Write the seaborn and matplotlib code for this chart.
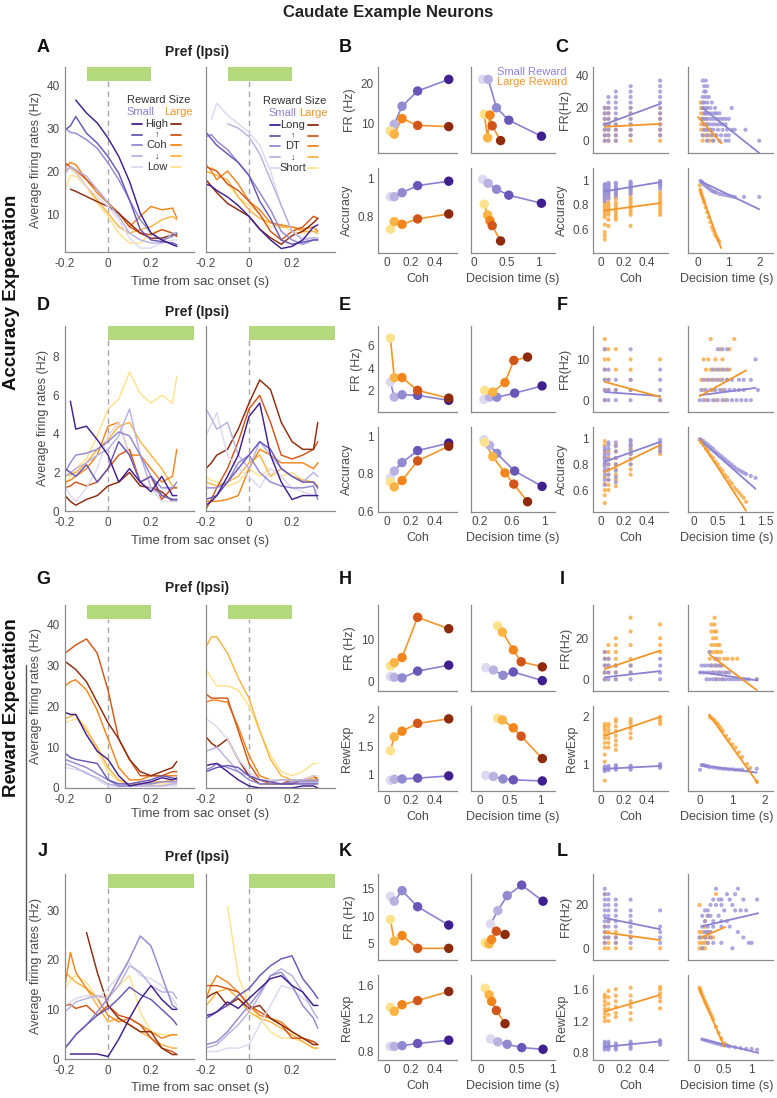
import numpy as np
import pandas as pd
import matplotlib
matplotlib.use("Agg")
import matplotlib.pyplot as plt
import seaborn as sns
from matplotlib.lines import Line2D

sns.set_theme(style="white")
plt.rcParams['font.family'] = ['Liberation Sans', 'DejaVu Sans']

nan = np.nan

# ============================================================
# DATA
# ============================================================
# time grid for the PSTH traces (s from saccade onset)
T = [-0.2, -0.175, -0.15, -0.1, -0.05, 0, 0.05, 0.1, 0.15, 0.2, 0.25, 0.3, 0.32]
coh = [0.032, 0.064, 0.128, 0.256, 0.512]

# --- A: traces, index 0 = high coh / long DT (darkest) ---
A_coh_small = [
    [nan, nan, 36.5, 33.5, 31.2, 27.7, 23.4, 17.6, 10.2, 5.6, 4.0, 2.9, 2.5],
    [29.6, 30.5, 32.7, 28.8, 26.5, 23.4, 19.5, 13.3, 6.4, 4.0, 3.6, 3.3, 2.9],
    [30.0, 29.0, 28.8, 27.3, 25.3, 21.9, 18.0, 13.3, 8.7, 5.6, 4.0, 4.8, 5.6],
    [19.5, 21.0, 20.3, 18.8, 15.7, 12.6, 9.5, 5.6, 4.0, 3.3, 3.3, 5.6, 5.6],
    [21.0, 20.5, 19.5, 16.4, 14.1, 11.8, 8.7, 4.4, 2.1, 2.1, 3.3, 4.0, 4.0],
]
A_coh_large = [
    [nan, 15.8, 15.3, 14.1, 12.9, 11.8, 10.2, 7.9, 5.6, 4.4, 4.4, 5.2, 5.2],
    [21.9, 21.0, 20.3, 18.0, 15.7, 12.6, 10.2, 7.1, 5.6, 5.2, 6.4, 5.6, 4.8],
    [21.0, 22.0, 21.5, 18.0, 14.9, 12.6, 10.2, 7.1, 9.5, 11.8, 11.0, 11.4, 9.1],
    [20.3, 20.8, 19.9, 16.4, 13.3, 10.2, 7.1, 5.6, 6.4, 7.1, 8.7, 9.5, 8.7],
    [15.7, 19.0, 18.8, 16.4, 12.6, 9.5, 5.6, 3.3, 3.3, 5.6, 6.4, 5.6, 5.6],
]
A_dt_small = [
    [17.0, 16.5, 15.5, 14.0, 12.0, 9.5, 6.5, 4.0, 2.0, 2.5, 4.0, 7.0, 7.5],
    [29.0, 27.5, 26.0, 24.0, 22.0, 19.0, 13.0, 9.0, 4.0, 3.0, 3.5, 4.0, 4.0],
    [28.0, 28.5, 27.0, 25.0, 22.0, 19.0, 15.0, 11.0, 6.0, 4.0, 3.0, 4.0, 4.0],
    [nan, nan, nan, 31.0, 30.0, 28.0, 24.0, 18.0, 12.0, 6.0, 4.0, 4.5, 4.5],
    [nan, 32.0, 35.8, 33.0, 31.0, 29.0, 26.0, 20.0, 12.0, 6.0, 4.5, 4.5, 4.0],
]
A_dt_large = [
    [18.0, 16.5, 15.0, 12.5, 11.0, 9.5, 6.5, 4.5, 3.0, 5.0, 6.0, 8.0, 9.0],
    [21.0, 20.5, 20.0, 17.0, 15.5, 13.0, 10.0, 6.0, 4.0, 6.0, 7.0, 9.5, 9.0],
    [21.5, 20.0, 18.0, 20.0, 17.0, 13.0, 11.0, 8.0, 7.5, 7.0, 6.5, 7.0, 6.0],
    [20.0, 19.5, 19.0, 18.0, 14.0, 11.0, 9.0, 8.0, 7.0, 7.0, 6.0, 6.0, 5.5],
    [nan, 21.0, 20.0, 17.0, 14.0, 12.0, 10.0, 7.0, 7.5, 6.0, 5.5, 6.0, 6.0],
]

# --- D ---
D_coh_small = [
    [nan, 5.7, 4.25, 4.4, 3.7, 2.9, 1.5, 2.2, 1.5, 1.0, 1.8, 0.8, 0.8],
    [2.2, 2.0, 1.8, 2.4, 1.5, 2.2, 3.6, 2.9, 1.5, 1.8, 0.8, 0.6, 0.6],
    [2.0, 2.5, 2.9, 3.0, 3.2, 3.6, 4.1, 3.9, 2.9, 1.8, 1.2, 1.2, 1.5],
    [1.8, 2.0, 2.2, 2.5, 2.9, 3.2, 3.9, 5.3, 2.9, 1.2, 0.8, 0.6, 0.5],
    [1.3, 0.8, 0.5, 1.2, 2.2, 3.9, 4.6, 2.9, 1.5, 1.2, 0.5, 0.5, 0.6],
]
D_coh_large = [
    [0.8, 0.5, 0.3, 0.6, 0.8, 1.3, 1.5, 2.0, 1.3, 1.2, 1.0, 0.5, 0.6],
    [1.2, 1.3, 1.5, 1.3, 1.5, 2.2, 2.9, 3.2, 1.5, 1.8, 0.6, 1.2, 1.2],
    [1.5, 1.6, 1.8, 2.2, 2.9, 4.4, 4.6, 2.9, 2.9, 2.2, 1.5, 1.8, 3.2],
    [1.8, 1.9, 2.0, 2.5, 3.2, 3.7, 4.4, 4.6, 3.6, 2.9, 2.2, 1.3, 1.2],
    [1.3, 1.8, 2.2, 2.7, 3.9, 5.3, 5.8, 7.2, 6.1, 5.6, 6.0, 5.6, 7.0],
]
D_dt_small = [
    [0.3, 0.5, 0.8, 1.8, 2.9, 4.9, 5.6, 2.9, 1.5, 0.6, 0.8, 0.8, 0.8],
    [0.6, 0.7, 0.8, 1.5, 2.2, 2.9, 3.6, 3.2, 2.2, 1.8, 1.5, 1.5, 1.2],
    [1.2, 1.2, 1.2, 1.5, 2.5, 2.9, 2.0, 1.5, 1.3, 1.2, 1.2, 1.3, 0.6],
    [5.3, 4.8, 4.25, 4.6, 2.9, 2.2, 3.6, 2.9, 2.2, 1.8, 1.5, 2.0, 1.8],
    [3.9, 4.5, 5.1, 2.9, 2.2, 1.8, 1.2, 2.2, 1.8, 1.2, 1.0, 0.8, 1.2],
]
D_dt_large = [
    [2.2, 2.5, 2.9, 3.2, 4.25, 5.6, 6.8, 6.3, 4.6, 3.6, 3.2, 3.2, 4.6],
    [0.1, 0.6, 1.2, 2.2, 3.6, 5.3, 6.0, 4.6, 2.9, 2.7, 2.9, 3.2, 3.6],
    [0.5, 0.5, 0.5, 0.6, 0.8, 2.2, 3.2, 2.9, 2.5, 2.5, 2.5, 2.2, 2.5],
    [1.5, 1.4, 1.3, 1.5, 1.8, 2.5, 2.9, 1.8, 2.2, 1.8, 1.6, 1.5, 1.3],
    [1.8, 1.6, 1.5, 1.3, 1.5, 2.2, 1.8, 2.2, 1.8, 2.0, 1.6, 1.5, 1.3],
]

# --- G ---
G_coh_small = [
    [18.5, 18.0, 18.0, 13.0, 9.0, 7.0, 3.0, 0.5, 1.0, 1.5, 2.5, 2.0, 2.5],
    [8.5, 7.5, 7.0, 6.5, 6.0, 2.0, 1.0, 1.0, 1.5, 2.0, 3.0, 2.5, 2.0],
    [7.0, 6.5, 6.0, 5.0, 3.5, 2.0, 0.5, 0.5, 1.0, 1.0, 1.5, 1.5, 1.5],
    [6.0, 5.5, 5.0, 3.5, 2.5, 1.0, 0.5, 0.5, 0.5, 0.5, 0.5, 1.0, 1.0],
    [5.0, 4.8, 4.5, 4.0, 2.0, 0.5, 0.3, 0.5, 0.5, 0.5, 0.5, 0.5, 0.5],
]
G_coh_large = [
    [31.0, 30.0, 29.0, 26.0, 21.0, 16.0, 12.0, 7.0, 4.0, 3.0, 4.0, 5.0, 6.5],
    [33.0, 34.0, 35.0, 36.5, 33.0, 24.0, 12.0, 7.0, 3.0, 3.0, 3.0, 4.0, 4.0],
    [25.0, 26.0, 26.5, 24.0, 19.0, 12.0, 5.0, 2.0, 2.0, 3.0, 3.0, 3.0, 3.0],
    [17.0, 17.5, 18.0, 14.0, 10.0, 5.0, 2.0, 1.0, 1.0, 1.5, 1.5, 2.0, 2.0],
    [16.0, 16.5, 17.0, 15.0, 9.0, 4.0, 1.5, 1.0, 0.5, 1.0, 1.0, 1.0, 1.0],
]
G_dt_small = [
    [5.5, 5.8, 6.0, 4.0, 2.0, 0.5, 0.0, 0.0, 0.0, 0.0, 0.5, 0.5, 0.0],
    [4.0, 4.5, 5.0, 5.5, 5.0, 3.0, 2.0, 1.5, 1.0, 1.0, 1.0, 1.0, 1.0],
    [4.5, 5.0, 6.0, 5.0, 4.0, 2.0, 1.0, 1.0, 1.0, 1.5, 1.5, 1.5, 1.5],
    [9.0, 9.5, 10.0, 7.0, 4.0, 3.0, 2.0, 1.5, 2.0, 2.0, 2.0, 2.0, 2.0],
    [17.0, 16.0, 15.0, 12.0, 7.0, 4.0, 2.0, 2.0, 2.0, 2.0, 2.0, 3.0, 3.0],
]
G_dt_large = [
    [12.5, 11.0, 10.0, 12.0, 7.0, 3.0, 1.0, 1.0, 1.0, 1.0, 2.0, 2.0, 2.0],
    [23.0, 22.0, 22.0, 22.0, 14.0, 6.0, 2.0, 1.0, 1.0, 2.0, 2.0, 3.0, 2.0],
    [21.0, 21.5, 21.5, 21.0, 15.0, 8.0, 3.0, 2.0, 2.0, 2.0, 2.0, 2.0, 2.0],
    [34.5, 37.0, 37.0, 33.0, 27.0, 22.0, 14.0, 7.0, 3.0, 2.0, 2.0, 2.5, 2.5],
    [29.0, 27.0, 25.0, 25.0, 24.0, 20.0, 14.0, 8.0, 4.0, 3.0, 4.0, 6.0, 6.0],
]

# --- J ---
J_coh_small = [
    [nan, 1.0, 1.0, 1.0, 1.0, 0.5, 4.0, 8.2, 12.0, 14.8, 12.0, 10.0, 10.0],
    [2.2, 3.5, 4.9, 6.9, 8.8, 10.2, 12.2, 14.5, 13.0, 12.0, 10.0, 8.0, 6.9],
    [2.2, 3.5, 4.9, 6.9, 9.5, 12.2, 16.2, 20.2, 24.8, 22.8, 16.8, 10.8, 10.2],
    [9.5, 10.5, 11.5, 12.2, 12.8, 12.2, 14.8, 18.8, 17.5, 14.8, 13.5, 13.5, 12.2],
    [10.8, 11.5, 12.2, 12.8, 12.2, 14.2, 16.8, 19.5, 16.8, 16.2, 14.8, 12.2, 10.8],
]
J_coh_large = [
    [nan, nan, nan, 25.5, 17.5, 10.8, 8.2, 6.9, 5.5, 5.5, 2.2, 0.9, 0.9],
    [10.8, 11.0, 10.2, 10.8, 8.8, 10.8, 8.8, 8.2, 6.9, 4.2, 2.2, 1.5, 0.9],
    [14.8, 21.5, 17.5, 14.2, 12.2, 8.8, 7.5, 8.2, 6.9, 5.5, 4.2, 4.9, 4.9],
    [17.5, 16.5, 15.5, 14.2, 10.8, 7.5, 8.2, 6.9, 5.5, 4.2, 2.9, 2.2, 2.2],
    [14.2, 16.0, 16.8, 15.5, 12.2, 12.8, 14.8, 16.8, 9.5, 5.5, 4.9, 4.9, 4.9],
]
J_dt_small = [
    [8.8, 9.0, 9.5, 11.5, 10.2, 12.2, 14.2, 16.2, 16.8, 14.8, 13.5, 10.8, 10.8],
    [8.2, 8.8, 9.5, 10.8, 12.8, 14.2, 16.8, 18.8, 20.2, 20.8, 16.2, 13.5, 12.2],
    [2.9, 3.2, 3.5, 5.5, 8.2, 10.8, 13.5, 16.8, 17.5, 14.8, 10.8, 8.2, 6.2],
    [2.2, 2.5, 2.9, 4.9, 6.9, 9.5, 12.8, 16.8, 18.2, 16.8, 13.5, 9.5, 8.2],
    [1.5, 1.5, 1.5, 2.2, 2.2, 2.9, 6.9, 10.8, 14.8, 14.2, 12.2, 10.8, 10.8],
]
J_dt_large = [
    [12.2, 13.0, 13.5, 10.8, 12.2, 10.2, 10.8, 8.2, 6.9, 5.5, 4.2, 2.9, 2.9],
    [14.8, 14.8, 14.8, 14.2, 13.5, 10.8, 9.5, 8.2, 6.9, 4.2, 4.2, 3.5, 2.9],
    [12.2, 15.0, 16.8, 15.5, 13.5, 10.8, 8.8, 8.2, 7.5, 5.5, 4.2, 3.5, 2.9],
    [10.8, 12.0, 13.5, 14.2, 12.2, 9.5, 8.2, 7.5, 6.2, 4.9, 3.5, 2.2, 2.2],
    [nan, nan, nan, 30.8, 16.8, 10.8, 8.2, 5.5, 4.2, 4.2, 3.5, 2.2, 2.2],
]

# --- B / E / H / K summaries (index 0 = lowest coh / shortest DT) ---
B_fr_coh_small = [8.2, 9.8, 14.3, 18.1, 21.0]
B_fr_coh_large = [8.1, 7.3, 11.2, 9.5, 9.2]
B_acc_coh_small = [0.904, 0.904, 0.925, 0.962, 0.985]
B_acc_coh_large = [0.734, 0.774, 0.760, 0.788, 0.814]
B_dt_small = [0.13, 0.216, 0.345, 0.535, 1.04]
B_dt_large = [0.155, 0.207, 0.243, 0.278, 0.408]
B_fr_dt_small = [21.0, 21.0, 13.9, 10.8, 6.8]
B_fr_dt_large = [12.3, 6.4, 12.1, 9.4, 5.7]
B_acc_dt_small = [0.995, 0.974, 0.943, 0.912, 0.870]
B_acc_dt_large = [0.865, 0.809, 0.779, 0.753, 0.673]

E_fr_coh_small = [2.75, 1.4, 1.6, 1.55, 1.1]
E_fr_coh_large = [6.7, 3.15, 3.15, 2.0, 1.3]
E_acc_coh_small = [0.778, 0.815, 0.86, 0.924, 0.964]
E_acc_coh_large = [0.757, 0.73, 0.764, 0.869, 0.947]
E_dt_small = [0.25, 0.32, 0.41, 0.63, 0.97]
E_dt_large = [0.26, 0.36, 0.51, 0.62, 0.79]
E_fr_dt_small = [1.18, 1.4, 1.38, 1.75, 2.4]
E_fr_dt_large = [2.0, 1.85, 2.7, 4.7, 5.0]
E_acc_dt_small = [0.982, 0.953, 0.909, 0.815, 0.733]
E_acc_dt_large = [0.968, 0.892, 0.805, 0.745, 0.651]

H_fr_coh_small = [1.2, 1.05, 0.9, 2.5, 3.9]
H_fr_coh_large = [3.7, 4.5, 5.7, 15.2, 12.5]
H_rew_coh_small = [0.89, 0.91, 0.915, 0.93, 0.97]
H_rew_coh_large = [1.42, 1.67, 1.77, 1.91, 1.99]
H_dt_small = [0.105, 0.23, 0.39, 0.56, 1.04]
H_dt_large = [0.30, 0.38, 0.56, 0.69, 1.04]
H_fr_dt_small = [3.3, 2.75, 1.5, 2.3, 0.25]
H_fr_dt_large = [13.2, 11.7, 7.5, 4.7, 3.5]
H_rew_dt_small = [0.98, 0.96, 0.915, 0.90, 0.88]
H_rew_dt_large = [2.0, 1.97, 1.83, 1.68, 1.28]

K_fr_coh_small = [13.6, 12.7, 14.6, 11.7, 8.4]
K_fr_coh_large = [9.4, 5.5, 6.5, 4.2, 4.2]
K_rew_coh_small = [0.865, 0.865, 0.874, 0.90, 0.94]
K_rew_coh_large = [1.34, 1.29, 1.37, 1.42, 1.53]
K_dt_small = [0.14, 0.24, 0.37, 0.57, 0.865]
K_dt_large = [0.067, 0.12, 0.155, 0.22, 0.34]
K_fr_dt_small = [8.6, 11.0, 13.7, 15.6, 12.7]
K_fr_dt_large = [5.2, 5.0, 5.8, 7.3, 6.7]
K_rew_dt_small = [0.955, 0.92, 0.89, 0.85, 0.83]
K_rew_dt_large = [1.57, 1.49, 1.41, 1.30, 1.14]

# --- C / F / I / L single-session scatters ---
# FR vs coh: list of FR values at each coh
C_fr_coh_small = [
    [0, 3.3, 6.7, 10, 13.3, 16.7, 20],
    [0, 3.3, 6.7, 10, 13.3, 16.7, 20, 23.3, 26.7],
    [0, 3.3, 6.7, 10, 13.3, 16.7, 20, 23.3, 26.7, 30],
    [3.3, 6.7, 10, 13.3, 16.7, 20, 23.3, 26.7, 30, 33.3],
    [3.3, 6.7, 10, 13.3, 16.7, 20, 23.3, 26.7, 30, 33.3, 36.7],
]
C_fr_coh_large = [
    [0, 3.3, 6.7, 10, 13.3, 16.7, 20],
    [0, 3.3, 6.7, 10, 13.3, 16.7, 20],
    [0, 3.3, 6.7, 10, 13.3],
    [0, 3.3, 6.7, 10, 13.3, 16.7, 20],
    [0, 3.3, 6.7, 10, 13.3, 16.7, 20],
]
# FR vs DT: FR level and the DTs seen at it
C_fr_levels_small = [36.7, 33.3, 30, 26.7, 23.3, 20, 16.7, 13.3, 10, 6.7, 3.3, 0]
C_dt_at_fr_small = [
    [0.15, 0.25], [0.2, 0.3], [0.2, 0.25], [0.15, 0.25, 0.35], [0.15, 0.2, 0.3, 0.45],
    [0.15, 0.25, 0.3, 0.4, 0.55, 1.1], [0.2, 0.25, 0.3, 0.35, 0.45, 0.55, 0.6, 0.7],
    [0.15, 0.2, 0.3, 0.4, 0.5, 0.6, 0.7, 0.8, 0.9, 1.0],
    [0.2, 0.3, 0.4, 0.5, 0.6, 0.7, 0.8, 0.9],
    [0.2, 0.3, 0.4, 0.5, 0.65, 0.8, 0.95, 1.1, 1.2, 1.55],
    [0.15, 0.3, 0.45, 0.6, 0.75, 0.9, 1.0], [0.3, 0.5, 0.7, 0.9, 1.0, 2.0],
]
C_fr_levels_large = [23.3, 20, 16.7, 13.3, 10, 6.7, 3.3, 0]
C_dt_at_fr_large = [
    [0.08], [0.1, 0.15], [0.1, 0.2], [0.1, 0.15, 0.25], [0.1, 0.2, 0.3],
    [0.1, 0.2, 0.3, 0.4], [0.15, 0.25, 0.35, 0.45, 0.55], [0.15, 0.3, 0.4, 0.5],
]
C_acc_coh_small = [
    [0.83, 0.85, 0.87, 0.88, 0.89, 0.9, 0.91, 0.92, 0.93, 0.94, 0.95, 0.96, 0.97],
    [0.85, 0.87, 0.89, 0.91, 0.92, 0.93, 0.94, 0.95, 0.96, 0.97, 0.98],
    [0.87, 0.89, 0.9, 0.91, 0.92, 0.93, 0.94, 0.95, 0.97, 0.98],
    [0.89, 0.91, 0.92, 0.93, 0.94, 0.95, 0.96, 0.97, 0.98, 0.99],
    [0.93, 0.95, 0.96, 0.97, 0.98, 0.99, 0.995],
]
C_acc_coh_large = [
    [0.52, 0.55, 0.58, 0.64, 0.7, 0.72, 0.74, 0.76, 0.78, 0.8, 0.82, 0.85],
    [0.63, 0.68, 0.72, 0.74, 0.76, 0.78, 0.8, 0.82, 0.86, 0.89],
    [0.68, 0.7, 0.72, 0.74, 0.76, 0.78, 0.8, 0.82, 0.85, 0.88],
    [0.63, 0.72, 0.74, 0.76, 0.78, 0.8, 0.82, 0.84, 0.86, 0.89],
    [0.72, 0.74, 0.76, 0.78, 0.8, 0.82, 0.84, 0.86, 0.88, 0.9],
]
C_acc_dt_small_x = [0.08, 0.1, 0.13, 0.16, 0.2, 0.25, 0.3, 0.35, 0.4, 0.45, 0.5, 0.55, 0.6,
                    0.7, 0.8, 0.9, 1.0, 1.1, 1.2, 1.5, 2.0]
C_acc_dt_small_y = [0.995, 0.99, 0.985, 0.975, 0.965, 0.955, 0.945, 0.935, 0.925, 0.915, 0.91,
                    0.905, 0.9, 0.89, 0.885, 0.88, 0.875, 0.87, 0.865, 0.865, 0.865]
C_acc_dt_large_x = [0.05, 0.08, 0.1, 0.12, 0.15, 0.18, 0.2, 0.25, 0.3, 0.35, 0.4, 0.45, 0.5,
                    0.55, 0.6, 0.65, 0.7]
C_acc_dt_large_y = [0.96, 0.92, 0.9, 0.88, 0.86, 0.84, 0.82, 0.78, 0.74, 0.7, 0.66, 0.62, 0.59,
                    0.56, 0.54, 0.52, 0.5]
# regression lines: ([x0, x1], [y0, y1])
C_fit_fr_coh_small = ([0.032, 0.512], [10.0, 22.5])
C_fit_fr_coh_large = ([0.032, 0.512], [8.5, 10.3])
C_fit_fr_dt_small = ([0.16, 2.0], [19.7, -7.5])
C_fit_fr_dt_large = ([0.0, 0.77], [14.5, -1.6])
C_fit_acc_coh_small = ([0.032, 0.512], [0.91, 0.985])
C_fit_acc_coh_large = ([0.032, 0.512], [0.755, 0.815])
C_fit_acc_dt_small = ([0.1, 2.0], [0.99, 0.765])
C_fit_acc_dt_large = ([0.05, 0.75], [0.93, 0.45])

F_fr_coh_small = [[0, 2.5, 5, 7.5, 12.5], [0, 2.5, 5, 7.5], [0, 2.5, 5], [0, 2.5, 5, 12.5], [0, 2.5, 5, 7.5]]
F_fr_coh_large = [[0, 2.5, 5, 7.5, 10, 12.5, 15], [2.5, 5, 10, 12.5], [2.5, 7.5, 12.5],
                  [2.5, 5, 7.5, 10], [0, 10]]
F_fr_levels_small = [0, 2.5, 5, 7.5, 10, 12.5]
F_dt_at_fr_small = [
    [0.12, 0.2, 0.3, 0.4, 0.5, 0.6, 0.7, 0.8, 0.9, 1.0, 1.1, 1.2],
    [0.15, 0.25, 0.35, 0.45, 0.55, 0.65, 0.75, 0.85, 0.95, 1.05, 1.35],
    [0.2, 0.3, 0.4, 0.5, 0.6, 0.7, 0.8, 0.95, 1.05, 1.2],
    [0.4, 0.5, 0.6, 0.7], [1.3], [0.5, 0.6, 0.7],
]
F_fr_levels_large = [0, 2.5, 5, 7.5, 10, 12.5, 15]
F_dt_at_fr_large = [
    [0.25, 0.45, 0.65], [0.2, 0.4, 0.6], [0.15, 0.25, 0.35, 0.45, 0.55, 0.7],
    [0.25, 0.35, 0.45, 0.55, 0.65, 0.75], [0.2, 0.3, 0.45, 0.6], [0.55, 0.75], [0.35, 0.85],
]
F_acc_coh_small = [
    [0.64, 0.68, 0.72, 0.75, 0.78, 0.8, 0.82, 0.84, 0.86, 0.88, 0.91, 0.93],
    [0.68, 0.72, 0.76, 0.8, 0.84, 0.88, 0.92, 0.95, 0.97],
    [0.66, 0.7, 0.75, 0.8, 0.85, 0.9, 0.94, 0.97],
    [0.8, 0.84, 0.88, 0.91, 0.94, 0.96, 0.98, 0.99],
    [0.9, 0.93, 0.95, 0.97, 0.99],
]
F_acc_coh_large = [
    [0.5, 0.56, 0.6, 0.65, 0.7, 0.75, 0.8, 0.85, 0.9, 0.95, 0.98],
    [0.6, 0.64, 0.68, 0.72, 0.76, 0.8, 0.85, 0.9],
    [0.63, 0.68, 0.72, 0.76, 0.8, 0.85, 0.9, 0.95],
    [0.72, 0.76, 0.8, 0.84, 0.88, 0.92, 0.95],
    [0.88, 0.9, 0.92, 0.94],
]
F_acc_dt_small_x = [0.12, 0.15, 0.2, 0.25, 0.3, 0.35, 0.4, 0.45, 0.5, 0.55, 0.6, 0.65, 0.7, 0.75,
                    0.8, 0.85, 0.9, 0.95, 1.0, 1.05, 1.1, 1.2, 1.3]
F_acc_dt_small_y = [0.995, 0.99, 0.98, 0.965, 0.95, 0.935, 0.92, 0.9, 0.885, 0.87, 0.855, 0.84,
                    0.825, 0.81, 0.795, 0.78, 0.765, 0.755, 0.745, 0.735, 0.725, 0.71, 0.695]
F_acc_dt_large_x = [0.12, 0.15, 0.2, 0.25, 0.3, 0.35, 0.4, 0.45, 0.5, 0.55, 0.6, 0.65, 0.7, 0.75,
                    0.8, 0.85, 0.9, 0.95, 1.0, 1.05, 1.1]
F_acc_dt_large_y = [0.99, 0.97, 0.95, 0.92, 0.9, 0.87, 0.85, 0.82, 0.8, 0.77, 0.75, 0.72, 0.7,
                    0.67, 0.65, 0.62, 0.6, 0.58, 0.56, 0.54, 0.51]
F_fit_fr_coh_small = ([0.032, 0.512], [2.0, 1.0])
F_fit_fr_coh_large = ([0.032, 0.512], [4.5, 0.8])
F_fit_fr_dt_small = ([0.12, 1.3], [1.2, 3.0])
F_fit_fr_dt_large = ([0.12, 1.1], [1.0, 7.3])
F_fit_acc_coh_small = ([0.032, 0.512], [0.82, 0.975])
F_fit_acc_coh_large = ([0.032, 0.512], [0.74, 0.95])
F_fit_acc_dt_small = ([0.12, 1.3], [0.99, 0.61])
F_fit_acc_dt_large = ([0.12, 1.1], [0.99, 0.44])

I_fr_coh_small = [[0, 3.3, 6.7, 10, 13.3], [0, 3.3, 6.7, 10], [0, 3.3, 6.7], [0, 3.3, 6.7], [0, 3.3, 6.7, 10]]
I_fr_coh_large = [[0, 3.3, 6.7, 10, 13.3], [3.3, 6.7, 10, 13.3, 16.7], [0, 3.3, 6.7, 10, 13.3, 16.7, 20],
                  [3.3, 6.7, 10, 16.7, 23.3, 30], [13.3, 16.7, 20, 26.7]]
I_fr_levels_small = [13.3, 10, 6.7, 3.3, 0]
I_dt_at_fr_small = [
    [0.3], [0.5], [0.05, 0.15, 0.25, 0.35, 0.45, 0.55, 0.65],
    [0.0, 0.1, 0.2, 0.3, 0.4, 0.5, 0.6, 0.7, 0.8, 0.9],
    [0.2, 0.3, 0.4, 0.5, 0.6, 0.7, 0.8, 0.9, 1.0, 1.1, 1.2, 1.3, 1.4, 1.5, 1.75],
]
I_fr_levels_large = [30, 26.7, 23.3, 20, 16.7, 13.3, 10, 6.7, 3.3, 0]
I_dt_at_fr_large = [
    [0.45], [0.35, 0.45], [0.35, 0.45, 0.5], [0.4, 0.5], [0.35, 0.45, 0.55, 0.6],
    [0.3, 0.4, 0.5, 0.55, 0.65], [0.3, 0.45, 0.6, 0.75, 0.85, 1.0, 1.15],
    [0.35, 0.5, 0.6, 0.7], [0.4, 0.6, 0.8], [0.5, 0.7, 1.75],
]
I_rew_coh_small = [[0.85, 0.88, 0.9, 0.92, 0.95], [0.87, 0.9, 0.93, 0.96], [0.88, 0.9, 0.92, 0.95, 0.98],
                   [0.88, 0.91, 0.94, 0.97], [0.92, 0.95, 0.98, 1.0]]
I_rew_coh_large = [
    [0.65, 0.9, 1.05, 1.2, 1.35, 1.45, 1.55, 1.62, 1.7, 1.75, 1.8, 1.85],
    [1.35, 1.45, 1.55, 1.65, 1.72, 1.8, 1.85],
    [1.3, 1.4, 1.5, 1.6, 1.7, 1.8, 1.9, 1.95],
    [1.55, 1.65, 1.75, 1.85, 1.9, 1.95],
    [1.85, 1.9, 1.95, 2.0],
]
I_rew_dt_small_x = [0.0, 0.05, 0.1, 0.15, 0.2, 0.25, 0.3, 0.4, 0.5, 0.6, 0.7, 0.8, 0.9, 1.0, 1.1,
                    1.2, 1.3, 1.5, 1.75]
I_rew_dt_small_y = [0.88, 0.98, 0.98, 0.97, 0.96, 0.95, 0.94, 0.93, 0.92, 0.91, 0.9, 0.9, 0.89,
                    0.89, 0.88, 0.88, 0.88, 0.88, 0.9]
I_rew_dt_large_x = [0.3, 0.35, 0.4, 0.45, 0.5, 0.55, 0.6, 0.65, 0.7, 0.8, 0.9, 1.0, 1.1, 1.2, 1.3,
                    1.45, 1.55, 1.75]
I_rew_dt_large_y = [2.0, 1.98, 1.95, 1.92, 1.88, 1.85, 1.8, 1.75, 1.7, 1.6, 1.52, 1.42, 1.35, 1.25,
                    1.15, 1.0, 0.92, 0.63]
I_fit_fr_coh_small = ([0.032, 0.512], [1.0, 4.0])
I_fit_fr_coh_large = ([0.032, 0.512], [5.0, 14.0])
I_fit_fr_dt_small = ([0.0, 1.75], [3.5, -0.5])
I_fit_fr_dt_large = ([0.3, 1.75], [12.0, -5.3])
I_fit_rew_coh_small = ([0.032, 0.512], [0.9, 0.96])
I_fit_rew_coh_large = ([0.032, 0.512], [1.6, 2.0])
I_fit_rew_dt_small = ([0.05, 1.75], [0.97, 0.82])
I_fit_rew_dt_large = ([0.28, 1.78], [2.05, 0.6])

L_fr_coh_small = [[2.5, 5, 7.5, 10, 12.5, 15, 17.5, 20, 22.5, 25, 27.5],
                  [5, 10, 12.5, 15, 17.5, 20, 22.5, 25],
                  [2.5, 5, 10, 12.5, 15, 17.5, 20, 22.5],
                  [2.5, 5, 7.5, 10, 12.5, 15, 17.5, 22.5],
                  [2.5, 5, 7.5, 10, 17.5]]
L_fr_coh_large = [[0, 2.5, 5, 7.5, 10, 25], [0, 2.5, 5, 7.5, 12.5], [0, 2.5, 5, 7.5], [0, 5], [0]]
L_fr_levels_small = [27.5, 25, 22.5, 20, 17.5, 15, 12.5, 10, 7.5, 5, 2.5, 0]
L_dt_at_fr_small = [
    [0.35, 0.75], [0.55, 0.7], [0.3, 0.4, 0.45, 0.6, 0.85, 1.1], [0.25, 0.35, 0.45, 0.65],
    [0.15, 0.2, 0.5, 0.7, 0.8, 0.9], [0.1, 0.2, 0.25, 0.4], [0.15, 0.3, 0.45, 0.55],
    [0.1, 0.2, 0.3, 0.45, 0.6], [0.15, 0.2, 0.25, 0.75], [0.05, 0.15, 0.25, 0.85],
    [0.2, 0.3, 0.45, 0.95, 1.0], [0.1, 0.65],
]
L_fr_levels_large = [25, 20, 15, 12.5, 10, 7.5, 5, 2.5, 0]
L_dt_at_fr_large = [
    [0.35], [0.05], [0.2], [0.15], [0.15], [0.05, 0.1, 0.15, 0.2, 0.25],
    [0.05, 0.1, 0.15, 0.2, 0.25, 0.3], [0.05, 0.1, 0.15, 0.2], [0.05, 0.1, 0.15],
]
L_rew_coh_small = [[0.84, 0.86, 0.88, 0.9, 0.92, 0.94], [0.84, 0.86, 0.88, 0.9, 0.92, 0.94],
                   [0.84, 0.86, 0.88, 0.9, 0.92], [0.85, 0.87, 0.9, 0.92, 0.94], [0.9, 0.92, 0.94, 0.96]]
L_rew_coh_large = [[1.2, 1.25, 1.3, 1.35, 1.4, 1.45, 1.5, 1.53], [1.2, 1.28, 1.35, 1.42, 1.5, 1.58],
                   [1.25, 1.3, 1.38, 1.45, 1.52, 1.6], [1.22, 1.3, 1.38, 1.45, 1.52, 1.62],
                   [1.36, 1.45, 1.5, 1.55, 1.6, 1.63]]
L_rew_dt_small_x = [0.1, 0.15, 0.2, 0.25, 0.3, 0.35, 0.4, 0.45, 0.5, 0.55, 0.6, 0.7, 0.8, 0.9, 1.0, 1.1]
L_rew_dt_small_y = [0.97, 0.96, 0.95, 0.94, 0.93, 0.92, 0.91, 0.9, 0.895, 0.89, 0.88, 0.87, 0.86,
                    0.85, 0.85, 0.84]
L_rew_dt_large_x = [0.05, 0.06, 0.07, 0.08, 0.1, 0.12, 0.14, 0.16, 0.18, 0.2, 0.22, 0.25, 0.28,
                    0.3, 0.35, 0.4, 0.45, 0.5, 0.55]
L_rew_dt_large_y = [1.62, 1.6, 1.58, 1.56, 1.53, 1.5, 1.46, 1.43, 1.4, 1.37, 1.34, 1.3, 1.26, 1.22,
                    1.13, 1.05, 0.98, 0.92, 0.9]
L_fit_fr_coh_small = ([0.032, 0.512], [14.0, 8.8])
L_fit_fr_coh_large = ([0.032, 0.512], [7.3, 3.8])
L_fit_fr_dt_small = ([0.1, 1.12], [10.2, 16.2])
L_fit_fr_dt_large = ([0.1, 0.52], [5.2, 9.8])
L_fit_rew_coh_small = ([0.032, 0.512], [0.875, 0.945])
L_fit_rew_coh_large = ([0.032, 0.512], [1.32, 1.53])
L_fit_rew_dt_small = ([0.1, 1.12], [0.97, 0.8])
L_fit_rew_dt_large = ([0.05, 0.5], [1.6, 0.88])

# ============================================================
# STYLE
# ============================================================
W, H = 777, 1098
purple_shades = ['#dcd9f0', '#b9b2e1', '#928ad1', '#6a56b6', '#40208f']   # low -> high
orange_shades = ['#fde28e', '#fbb443', '#f2861d', '#d2561a', '#8e2b0d']
purple_dark = purple_shades[::-1]
orange_dark = orange_shades[::-1]
purple_line, orange_line = '#8a82d2', '#f39629'
purple_dot, orange_dot = '#9a92d8', '#f7a73d'
green = '#b4d97c'
spine_c = '#8a8a8a'
text_c = '#4a4a4a'
lab_fs = 9

fig = plt.figure(figsize=(W / 100, H / 100), dpi=100)


def add_ax(x0, y0, x1, y1):
    return fig.add_axes([x0 / W, 1 - y1 / H, (x1 - x0) / W, (y1 - y0) / H])


def ftext(x, y, s, **kw):
    fig.text(x / W, 1 - y / H, s, **kw)


def fline(x0, x1, y0, y1, **kw):
    fig.add_artist(Line2D([x0 / W, x1 / W], [1 - y0 / H, 1 - y1 / H], **kw))


def tidy(ax, xlim, ylim, xticks, yticks, xlab=True, ylab=True, xpad=3, ypad=3):
    ax.set_xlim(xlim)
    ax.set_ylim(ylim)
    ax.set_xticks(xticks)
    ax.set_yticks(yticks)
    ax.set_xticklabels([f"{v:g}" for v in xticks] if xlab else [])
    ax.set_yticklabels([f"{v:g}" for v in yticks] if ylab else [])
    ax.set_xlabel('')
    ax.set_ylabel('')
    for s in ['top', 'right']:
        ax.spines[s].set_visible(False)
    for s in ['left', 'bottom']:
        ax.spines[s].set_color(spine_c)
        ax.spines[s].set_linewidth(0.9)
    ax.tick_params(direction='in', length=3, width=0.8, color=spine_c,
                   labelsize=8.5, labelcolor=text_c)
    ax.tick_params(axis='x', pad=xpad)
    ax.tick_params(axis='y', pad=ypad)
    ax.set_facecolor('none')


def line(ax, x, y, color, lw=1.05, z=2):
    df = pd.DataFrame({'x': x, 'y': y}).dropna()
    sns.lineplot(data=df, x='x', y='y', color=color, lw=lw, ax=ax,
                 estimator=None, sort=False, zorder=z)


def expand(xs, cols):
    xx, yy = [], []
    for xv, col in zip(xs, cols):
        xx += [xv] * len(col)
        yy += list(col)
    return xx, yy


def dots(ax, x, y, color):
    sns.scatterplot(x=x, y=y, color=color, s=9, alpha=0.8, edgecolor='none',
                    ax=ax, legend=False, zorder=2)


# layout in pixels
row_top = [67, 326, 605, 874]
trace_bot = [252, 511, 788, 1059]
letter_y = [48, 305, 579, 852]
pref_y = [52, 312, 588, 857]
xlab_y = [282, 541, 814, 1088]

# ============================================================
# TRACE PANELS (A, D, G, J)
# ============================================================
trace_sets = [
    (A_coh_small, A_coh_large, A_dt_small, A_dt_large, (1.2, 44.2), [10, 20, 30, 40], (-0.1, 0.2)),
    (D_coh_small, D_coh_large, D_dt_small, D_dt_large, (0, 9.6), [0, 2, 4, 6, 8], (0.0, 0.4)),
    (G_coh_small, G_coh_large, G_dt_small, G_dt_large, (0, 44.8), [0, 10, 20, 30, 40], (-0.1, 0.2)),
    (J_coh_small, J_coh_large, J_dt_small, J_dt_large, (0, 37.3), [0, 10, 20, 30], (0.0, 0.4)),
]
for r, (cs, cl, ds, dl, ylim, yt, bar) in enumerate(trace_sets):
    top, bot = row_top[r], trace_bot[r]
    axL = add_ax(65, top, 194, bot)
    axR = add_ax(206, top, 335, bot)
    for k, (ax, sm, lg) in enumerate([(axL, cs, cl), (axR, ds, dl)]):
        ax.axvspan(bar[0], bar[1], ymin=0.925, ymax=1, color=green, lw=0, zorder=1)
        ax.axvline(0, ymin=0, ymax=0.925, color='#a8a8a8', ls=(0, (4, 3)), lw=1, zorder=1)
        for i in range(4, -1, -1):
            line(ax, T, lg[i], orange_dark[i])
        for i in range(4, -1, -1):
            line(ax, T, sm[i], purple_dark[i])
        tidy(ax, (-0.2, 0.4), ylim, [-0.2, 0, 0.2], yt, ylab=(k == 0), xpad=4.5, ypad=4)
    axL.set_ylabel('Average firing rates (Hz)', fontsize=lab_fs, color=text_c, labelpad=3)
    ftext(200, xlab_y[r], 'Time from sac onset (s)', ha='center', va='center',
          fontsize=9.5, color=text_c)
    ftext(197, pref_y[r], 'Pref (Ipsi)', ha='center', va='center', fontsize=10,
          fontweight='bold', color='#222222')

# legends inside A
for cx, words, ps, pe, os_, oe, y0, sx, lx in [
        (157, ['High', '\u2191', 'Coh', '\u2193', 'Low'], 132, 142, 171, 181, 100, 140, 178),
        (293, ['Long', '\u2191', 'DT', '\u2193', 'Short'], 270, 280, 308, 318, 101, 282, 313)]:
    ftext(cx + 2, y0, 'Reward Size', ha='center', va='center', fontsize=8, color='#333333')
    ftext(sx, y0 + 12, 'Small', ha='center', va='center', fontsize=8, color=purple_line)
    ftext(lx, y0 + 12, 'Large', ha='center', va='center', fontsize=8, color=orange_line)
    for i, w in enumerate(words):
        yy = y0 + 24 + i * 10.7
        ftext(cx, yy, w, ha='center', va='center', fontsize=8 if len(w) > 1 else 6.5,
              color='#333333')
        fline(ps, pe, yy, yy, color=purple_dark[i], lw=1.3)
        fline(os_, oe, yy, yy, color=orange_dark[i], lw=1.3)

# ============================================================
# SUMMARY PANELS (B, E, H, K)
# ============================================================


def summary(ax, x, y, shades, lcolor):
    line(ax, x, y, lcolor, lw=1.2)
    sns.scatterplot(x=x, y=y, hue=list(range(5)), palette=shades, s=46, edgecolor='none',
                    ax=ax, legend=False, zorder=3)


summary_sets = [
    (B_fr_coh_small, B_fr_coh_large, B_acc_coh_small, B_acc_coh_large, B_dt_small, B_dt_large,
     B_fr_dt_small, B_fr_dt_large, B_acc_dt_small, B_acc_dt_large,
     (2.6, 24.1), [10, 20], (0.61, 1.054), [0.8, 1], (-0.05, 1.25), [0, 0.5, 1], 'Accuracy'),
    (E_fr_coh_small, E_fr_coh_large, E_acc_coh_small, E_acc_coh_large, E_dt_small, E_dt_large,
     E_fr_dt_small, E_fr_dt_large, E_acc_dt_small, E_acc_dt_large,
     (0.05, 7.8), [2, 4, 6], (0.596, 1.05), [0.6, 0.8, 1], (0.09, 1.13), [0.2, 0.6, 1], 'Accuracy'),
    (H_fr_coh_small, H_fr_coh_large, H_rew_coh_small, H_rew_coh_large, H_dt_small, H_dt_large,
     H_fr_dt_small, H_fr_dt_large, H_rew_dt_small, H_rew_dt_large,
     (-2.2, 18.1), [0, 10], (0.70, 2.22), [1, 1.5, 2], (-0.14, 1.25), [0, 0.5, 1], 'RewExp'),
    (K_fr_coh_small, K_fr_coh_large, K_rew_coh_small, K_rew_coh_large, K_dt_small, K_dt_large,
     K_fr_dt_small, K_fr_dt_large, K_rew_dt_small, K_rew_dt_large,
     (2.1, 17.6), [5, 10, 15], (0.70, 1.73), [0.8, 1.2, 1.6], (-0.13, 1.03), [0, 0.5, 1], 'RewExp'),
]
for r, s in enumerate(summary_sets):
    (fcs, fcl, acs, acl, dts, dtl, fds, fdl, ads, adl, yl1, yt1, yl2, yt2, dxl, dxt, lab2) = s
    top = row_top[r]
    a1 = add_ax(378, top, 457, top + 86)
    a2 = add_ax(471, top, 555, top + 86)
    a3 = add_ax(378, top + 101, 457, top + 186)
    a4 = add_ax(471, top + 101, 555, top + 186)
    summary(a1, coh, fcs, purple_shades, purple_line)
    summary(a1, coh, fcl, orange_shades, orange_line)
    summary(a2, dts, fds, purple_shades, purple_line)
    summary(a2, dtl, fdl, orange_shades, orange_line)
    summary(a3, coh, acs, purple_shades, purple_line)
    summary(a3, coh, acl, orange_shades, orange_line)
    summary(a4, dts, ads, purple_shades, purple_line)
    summary(a4, dtl, adl, orange_shades, orange_line)
    tidy(a1, (-0.07, 0.58), yl1, [0, 0.2, 0.4], yt1, xlab=False)
    tidy(a2, dxl, yl1, dxt, yt1, xlab=False, ylab=False)
    tidy(a3, (-0.07, 0.58), yl2, [0, 0.2, 0.4], yt2)
    tidy(a4, dxl, yl2, dxt, yt2, ylab=False)
    a1.set_ylabel('FR (Hz)', fontsize=lab_fs, color=text_c, labelpad=3)
    a3.set_ylabel(lab2, fontsize=lab_fs, color=text_c, labelpad=3)
    a3.set_xlabel('Coh', fontsize=lab_fs, color=text_c, labelpad=3)
    a4.set_xlabel('Decision time (s)', fontsize=lab_fs, color=text_c, labelpad=3)

ftext(497, 72, 'Small Reward', ha='left', va='center', fontsize=8, color=purple_line)
ftext(497, 82, 'Large Reward', ha='left', va='center', fontsize=8, color=orange_line)

# ============================================================
# SCATTER PANELS (C, F, I, L)
# ============================================================
scatter_sets = [
    (C_fr_coh_small, C_fr_coh_large, C_fr_levels_small, C_dt_at_fr_small,
     C_fr_levels_large, C_dt_at_fr_large, C_acc_coh_small, C_acc_coh_large,
     (C_acc_dt_small_x, C_acc_dt_small_y), (C_acc_dt_large_x, C_acc_dt_large_y),
     [C_fit_fr_coh_small, C_fit_fr_coh_large, C_fit_fr_dt_small, C_fit_fr_dt_large,
      C_fit_acc_coh_small, C_fit_acc_coh_large, C_fit_acc_dt_small, C_fit_acc_dt_large],
     (-7.5, 45), [0, 20, 40], (0.41, 1.1), [0.6, 0.8, 1], (-0.33, 2.45), [0, 1, 2], 'Accuracy'),
    (F_fr_coh_small, F_fr_coh_large, F_fr_levels_small, F_dt_at_fr_small,
     F_fr_levels_large, F_dt_at_fr_large, F_acc_coh_small, F_acc_coh_large,
     (F_acc_dt_small_x, F_acc_dt_small_y), (F_acc_dt_large_x, F_acc_dt_large_y),
     [F_fit_fr_coh_small, F_fit_fr_coh_large, F_fit_fr_dt_small, F_fit_fr_dt_large,
      F_fit_acc_coh_small, F_fit_acc_coh_large, F_fit_acc_dt_small, F_fit_acc_dt_large],
     (-2.9, 18.2), [0, 10], (0.43, 1.09), [0.6, 0.8, 1], (-0.13, 1.67), [0, 0.5, 1, 1.5], 'Accuracy'),
    (I_fr_coh_small, I_fr_coh_large, I_fr_levels_small, I_dt_at_fr_small,
     I_fr_levels_large, I_dt_at_fr_large, I_rew_coh_small, I_rew_coh_large,
     (I_rew_dt_small_x, I_rew_dt_small_y), (I_rew_dt_large_x, I_rew_dt_large_y),
     [I_fit_fr_coh_small, I_fit_fr_coh_large, I_fit_fr_dt_small, I_fit_fr_dt_large,
      I_fit_rew_coh_small, I_fit_rew_coh_large, I_fit_rew_dt_small, I_fit_rew_dt_large],
     (-5.7, 36.2), [0, 20], (0.43, 2.23), [1, 2], (-0.37, 2.25), [0, 1, 2], 'RewExp'),
    (L_fr_coh_small, L_fr_coh_large, L_fr_levels_small, L_dt_at_fr_small,
     L_fr_levels_large, L_dt_at_fr_large, L_rew_coh_small, L_rew_coh_large,
     (L_rew_dt_small_x, L_rew_dt_small_y), (L_rew_dt_large_x, L_rew_dt_large_y),
     [L_fit_fr_coh_small, L_fit_fr_coh_large, L_fit_fr_dt_small, L_fit_fr_dt_large,
      L_fit_rew_coh_small, L_fit_rew_coh_large, L_fit_rew_dt_small, L_fit_rew_dt_large],
     (-5.4, 34.3), [0, 20], (0.71, 1.78), [0.8, 1.2, 1.6], (-0.16, 1.39), [0, 0.5, 1], 'RewExp'),
]
for r, s in enumerate(scatter_sets):
    (fcs, fcl, lvs, dss, lvl, dsl, acs, acl, ads, adl, fits,
     yl1, yt1, yl2, yt2, dxl, dxt, lab2) = s
    top = row_top[r]
    a1 = add_ax(593, top, 668, top + 86)
    a2 = add_ax(688, top, 773, top + 86)
    a3 = add_ax(593, top + 101, 668, top + 186)
    a4 = add_ax(688, top + 101, 773, top + 186)
    x, y = expand(coh, fcl); dots(a1, x, y, orange_dot)
    x, y = expand(coh, fcs); dots(a1, x, y, purple_dot)
    y, x = expand(lvl, dsl); dots(a2, x, y, orange_dot)
    y, x = expand(lvs, dss); dots(a2, x, y, purple_dot)
    x, y = expand(coh, acl); dots(a3, x, y, orange_dot)
    x, y = expand(coh, acs); dots(a3, x, y, purple_dot)
    dots(a4, adl[0], adl[1], orange_dot)
    dots(a4, ads[0], ads[1], purple_dot)
    for ax, fs, fl in [(a1, fits[0], fits[1]), (a2, fits[2], fits[3]),
                       (a3, fits[4], fits[5]), (a4, fits[6], fits[7])]:
        line(ax, fs[0], fs[1], purple_line, lw=1.3, z=3)
        line(ax, fl[0], fl[1], orange_line, lw=1.3, z=3)
    tidy(a1, (-0.07, 0.58), yl1, [0, 0.2, 0.4], yt1, xlab=False)
    tidy(a2, dxl, yl1, dxt, yt1, xlab=False, ylab=False)
    tidy(a3, (-0.07, 0.58), yl2, [0, 0.2, 0.4], yt2)
    tidy(a4, dxl, yl2, dxt, yt2, ylab=False)
    a1.set_ylabel('FR(Hz)', fontsize=lab_fs, color=text_c, labelpad=3)
    a3.set_ylabel(lab2, fontsize=lab_fs, color=text_c, labelpad=3)
    a3.set_xlabel('Coh', fontsize=lab_fs, color=text_c, labelpad=3)
    a4.set_xlabel('Decision time (s)', fontsize=lab_fs, color=text_c, labelpad=3, x=0.46)

# ============================================================
# TITLES, LETTERS, ROW LABELS
# ============================================================
ftext(388, 12, 'Caudate Example Neurons', ha='center', va='center', fontsize=12,
      fontweight='bold', color='#222222')
for r, letters in enumerate(['ABC', 'DEF', 'GHI', 'JKL']):
    for lx, ch in zip([43, 345, 562], letters):
        ftext(lx, letter_y[r], ch, ha='center', va='center', fontsize=13,
              fontweight='bold', color='#111111')
ftext(12, 292, 'Accuracy Expectation', ha='center', va='center', rotation=90,
      fontsize=13.5, fontweight='bold', color='#111111')
ftext(12, 708, 'Reward Expectation', ha='center', va='center', rotation=90,
      fontsize=13.5, fontweight='bold', color='#111111')
fline(26, 26, 665, 980, color='#555555', lw=1)

fig.savefig('out.png', dpi=100)
